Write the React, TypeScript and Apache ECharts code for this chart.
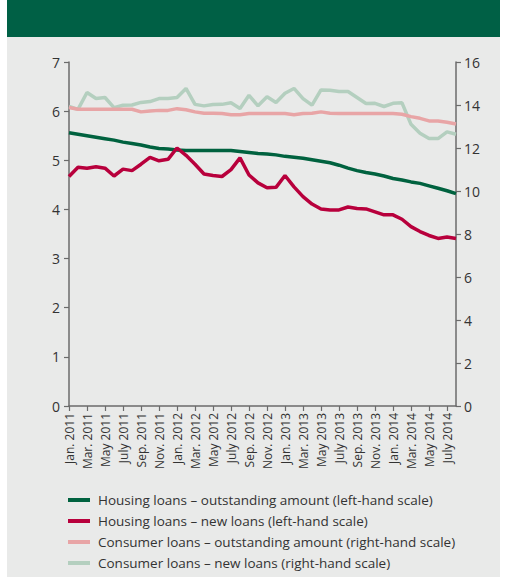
import React, { useEffect, useRef } from "react";
import * as echarts from "echarts";

const MONTHS = ["Jan.", "Feb.", "Mar.", "Apr.", "May", "June", "July", "Aug.", "Sep.", "Oct.", "Nov.", "Dec."];
const categories: string[] = [];
for (let y = 2011; y <= 2014; y++) {
  for (let m = 0; m < 12; m++) {
    if (y === 2014 && m > 7) break;
    categories.push(`${MONTHS[m]} ${y}`);
  }
}

const housingOutstanding = [5.56, 5.53, 5.5, 5.47, 5.44, 5.41, 5.37, 5.34, 5.31, 5.27, 5.24, 5.23, 5.21, 5.2, 5.2, 5.2, 5.2, 5.2, 5.2, 5.18, 5.16, 5.14, 5.13, 5.11, 5.08, 5.06, 5.04, 5.01, 4.98, 4.95, 4.9, 4.84, 4.79, 4.75, 4.72, 4.68, 4.63, 4.6, 4.56, 4.53, 4.48, 4.43, 4.38, 4.32];
const housingNew = [4.67, 4.86, 4.84, 4.87, 4.84, 4.68, 4.82, 4.79, 4.92, 5.06, 4.99, 5.02, 5.25, 5.1, 4.92, 4.72, 4.69, 4.67, 4.81, 5.05, 4.7, 4.54, 4.44, 4.45, 4.69, 4.46, 4.26, 4.11, 4.01, 3.99, 3.99, 4.05, 4.02, 4.01, 3.95, 3.89, 3.89, 3.8, 3.65, 3.55, 3.47, 3.41, 3.44, 3.41];
const consumerOutstanding = [13.88, 13.8, 13.8, 13.8, 13.8, 13.8, 13.8, 13.8, 13.68, 13.72, 13.75, 13.75, 13.83, 13.78, 13.68, 13.62, 13.62, 13.6, 13.55, 13.55, 13.6, 13.6, 13.6, 13.6, 13.6, 13.55, 13.6, 13.62, 13.68, 13.62, 13.6, 13.6, 13.6, 13.6, 13.6, 13.6, 13.6, 13.57, 13.46, 13.38, 13.26, 13.26, 13.2, 13.12];
const consumerNew = [13.93, 13.8, 14.58, 14.3, 14.35, 13.88, 13.99, 14.0, 14.12, 14.16, 14.3, 14.3, 14.35, 14.77, 14.03, 13.96, 14.02, 14.03, 14.1, 13.84, 14.45, 13.96, 14.38, 14.12, 14.55, 14.77, 14.3, 13.99, 14.7, 14.69, 14.63, 14.63, 14.35, 14.07, 14.08, 13.93, 14.08, 14.1, 13.1, 12.69, 12.44, 12.44, 12.75, 12.64];

const seriesNames = [
  "Housing loans \u2013 outstanding amount (left-hand scale)",
  "Housing loans \u2013 new loans (left-hand scale)",
  "Consumer loans \u2013 outstanding amount (right-hand scale)",
  "Consumer loans \u2013 new loans (right-hand scale)",
];
const colors = ["#00623f", "#b8003c", "#e8a5a6", "#b4cfbf"];

const FONT = "Open Sans";

export default function App() {
  const ref = useRef<HTMLDivElement>(null);
  useEffect(() => {
    if (!ref.current) return;
    const chart = echarts.init(ref.current, undefined, { renderer: "svg" });
    const axisLine = { show: true, lineStyle: { color: "#6b6b6b", width: 1.5 } };
    const axisTick = { show: true, length: 5, lineStyle: { color: "#6b6b6b", width: 1.2 } };
    const lbl = { color: "#333", fontSize: 14, fontFamily: FONT };
    chart.setOption({
      animation: false,
      backgroundColor: "#ffffff",
      graphic: [
        { type: "rect", z: -10, shape: { x: 7, y: 0, width: 493, height: 577 }, style: { fill: "#e9eae9" } },
        { type: "rect", z: -9, shape: { x: 7, y: 0, width: 493, height: 37 }, style: { fill: "#006045" } },
      ],
      grid: { left: 69, right: 51, top: 62, bottom: 171, containLabel: false },
      legend: {
        orient: "vertical",
        left: 68,
        top: 492,
        padding: 0,
        itemWidth: 22,
        itemHeight: 4,
        itemGap: 5,
        icon: "rect",
        textStyle: { color: "#333", fontSize: 13.5, fontFamily: FONT, lineHeight: 16, padding: [0, 0, 0, 3] },
        data: seriesNames,
      },
      xAxis: {
        type: "category",
        data: categories,
        boundaryGap: false,
        axisLine,
        axisTick: { ...axisTick, interval: 1, alignWithLabel: true },
        axisLabel: { ...lbl, fontSize: 12, rotate: 90, interval: 1, margin: 7 },
        splitLine: { show: false },
      },
      yAxis: [
        {
          type: "value",
          min: 0,
          max: 7,
          interval: 1,
          position: "left",
          axisLine,
          axisTick,
          axisLabel: { ...lbl, margin: 9 },
          splitLine: { show: false },
        },
        {
          type: "value",
          min: 0,
          max: 16,
          interval: 2,
          position: "right",
          axisLine,
          axisTick,
          axisLabel: { ...lbl, margin: 8 },
          splitLine: { show: false },
        },
      ],
      series: [
        { name: seriesNames[3], type: "line", yAxisIndex: 1, data: consumerNew, showSymbol: false, lineStyle: { width: 3.5, color: colors[3] }, itemStyle: { color: colors[3] }, z: 2 },
        { name: seriesNames[2], type: "line", yAxisIndex: 1, data: consumerOutstanding, showSymbol: false, lineStyle: { width: 3.5, color: colors[2] }, itemStyle: { color: colors[2] }, z: 3 },
        { name: seriesNames[0], type: "line", yAxisIndex: 0, data: housingOutstanding, showSymbol: false, lineStyle: { width: 3.5, color: colors[0] }, itemStyle: { color: colors[0] }, z: 4 },
        { name: seriesNames[1], type: "line", yAxisIndex: 0, data: housingNew, showSymbol: false, lineStyle: { width: 3.5, color: colors[1] }, itemStyle: { color: colors[1] }, z: 5 },
      ],
    });
    return () => chart.dispose();
  }, []);
  return (
    <div style={{ position: "absolute", left: 0, top: 0, width: 507, height: 577, background: "#fff" }}>
      <div ref={ref} style={{ width: 507, height: 577 }} />
    </div>
  );
}
